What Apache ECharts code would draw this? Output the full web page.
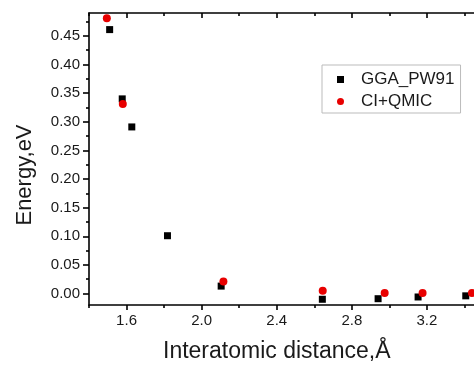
<!DOCTYPE html>
<html>
<head>
<meta charset="utf-8">
<script src="https://cdn.jsdelivr.net/npm/echarts@6/dist/echarts.min.js"></script>
<style>
  html, body { margin: 0; padding: 0; background: #fff; overflow: hidden; }
  #chart { width: 540px; height: 366px; }
</style>
</head>
<body>
<div id="chart"></div>
<script>
// GGA_PW91 (black squares)
const ggaX = [1.51, 1.577, 1.628, 1.818, 2.104, 2.643, 2.94, 3.153, 3.407];
const ggaY = [0.461, 0.34, 0.291, 0.101, 0.013, -0.01, -0.009, -0.006, -0.004];
// CI+QMIC (red circles)
const ciX = [1.495, 1.58, 2.116, 2.645, 2.975, 3.177, 3.44];
const ciY = [0.481, 0.331, 0.021, 0.005, 0.001, 0.001, 0.001];

// tick positions
const xMajor = [1.6, 2.0, 2.4, 2.8, 3.2, 3.6];
const xMinor = [1.4, 1.8, 2.2, 2.6, 3.0, 3.4];
const yMajor = [0.00, 0.05, 0.10, 0.15, 0.20, 0.25, 0.30, 0.35, 0.40, 0.45];
const yMinor = [0.025, 0.075, 0.125, 0.175, 0.225, 0.275, 0.325, 0.375, 0.425, 0.475];

const pair = (xs, ys) => xs.map((x, i) => [x, ys[i]]);

const chart = echarts.init(document.getElementById('chart'));
const lineStyle = { color: '#000', width: 1.6 };
const font = 'Liberation Sans, Arial, sans-serif';

function xAx(pos, ticks, len, inside, withLine, withLabel) {
  return {
    type: 'value', position: pos, min: 1.4, max: 3.6,
    splitLine: { show: false },
    axisLine: { show: withLine, onZero: false, lineStyle: lineStyle },
    axisTick: { show: true, customValues: ticks, length: len, inside: inside, lineStyle: lineStyle },
    axisLabel: withLabel ? {
      customValues: xMajor.slice(0, 5), margin: 8, color: '#1a1a1a', fontSize: 15, fontFamily: font,
      formatter: v => v.toFixed(1)
    } : { show: false }
  };
}
function yAx(ticks, len, withLine, withLabel) {
  return {
    type: 'value', position: 'left', min: -0.02, max: 0.49,
    splitLine: { show: false },
    axisLine: { show: withLine, onZero: false, lineStyle: lineStyle },
    axisTick: { show: true, customValues: ticks, length: len, lineStyle: lineStyle },
    axisLabel: withLabel ? {
      customValues: yMajor, margin: 9, color: '#1a1a1a', fontSize: 15, fontFamily: font,
      formatter: v => v.toFixed(2)
    } : { show: false }
  };
}

chart.setOption({
  animation: false,
  grid: { left: 89, top: 13, right: 38, bottom: 61 },
  xAxis: [
    xAx('bottom', xMajor, 5, false, true, true),
    xAx('bottom', xMinor, 3, false, false, false),
    xAx('top', xMajor, 5, true, true, false),
    xAx('top', xMinor, 3, true, false, false)
  ],
  yAxis: [
    yAx(yMajor, 6, true, true),
    yAx(yMinor, 3, false, false)
  ],
  legend: {
    left: 322, top: 65,
    orient: 'vertical',
    padding: [6, 6, 3, 15],
    borderColor: '#bbb', borderWidth: 1,
    itemWidth: 7, itemHeight: 7, itemGap: 5,
    textStyle: { fontSize: 17, lineHeight: 16, color: '#1a1a1a', fontFamily: font, padding: [0, 0, 0, 12] },
    data: [
      { name: 'GGA_PW91', icon: 'rect' },
      { name: 'CI+QMIC', icon: 'circle' }
    ]
  },
  graphic: [
    {
      type: 'text', x: 25, y: 175, rotation: Math.PI / 2,
      style: { text: 'Energy,eV', fontSize: 22, fontFamily: font, fill: '#1a1a1a',
        textAlign: 'center', textVerticalAlign: 'middle' }
    },
    {
      type: 'text', left: 163, top: 340,
      style: { text: 'Interatomic distance,Å', fontSize: 23, fontFamily: font, fill: '#1a1a1a' }
    }
  ],
  series: [
    {
      name: 'GGA_PW91', type: 'scatter', xAxisIndex: 0, yAxisIndex: 0,
      symbol: 'rect', symbolSize: 7, itemStyle: { color: '#000', opacity: 1 },
      data: pair(ggaX, ggaY)
    },
    {
      name: 'CI+QMIC', type: 'scatter', xAxisIndex: 0, yAxisIndex: 0,
      symbol: 'circle', symbolSize: 8, itemStyle: { color: '#e80000', opacity: 1 },
      data: pair(ciX, ciY)
    }
  ]
});
</script>
</body>
</html>
